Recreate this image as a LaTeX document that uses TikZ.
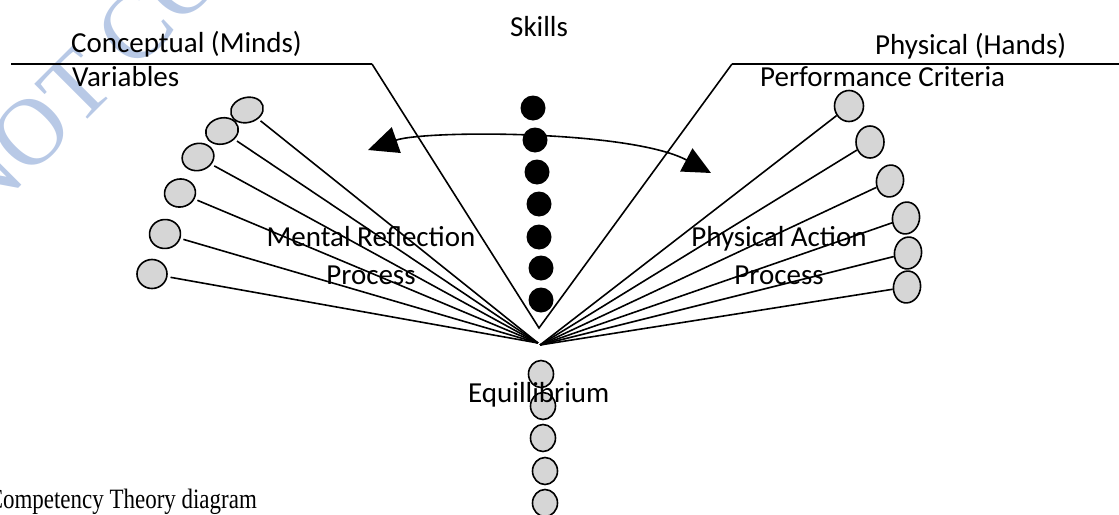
\documentclass[tikz,border=0pt]{standalone}
\usepackage{fontspec}
\setmainfont{Carlito}
\newfontfamily\capfont{Liberation Serif}
\usetikzlibrary{shapes.geometric,arrows.meta}
\definecolor{ellgray}{RGB}{214,214,214}
\definecolor{wmblue}{RGB}{184,201,230}
\begin{document}
\begin{tikzpicture}[x=1pt,y=-1pt,
  lbl/.style={inner sep=0pt,font=\fontsize{29}{35}\selectfont},
  ray/.style={line width=1.6pt},
  bar/.style={line width=2.6pt},
  ell/.style={ellipse,draw,line width=1.6pt,fill=ellgray,inner sep=0pt},
  dot/.style={circle,fill=black,inner sep=0pt,minimum size=25pt}]
\useasboundingbox (0,0) rectangle (1119,514);
\clip (0,0) rectangle (1119,514);
% watermark
\node[text=wmblue,inner sep=0pt,font=\capfont\fontsize{95}{95}\selectfont,rotate=45,anchor=base west] (wm) at (-20,227) {NOT COPY};
% top frame
\coordinate (tl) at (11,64);
\coordinate (tm) at (372,64);
\coordinate (v) at (539,328);
\coordinate (tr) at (732,64);
\coordinate (te) at (1119,64);
\draw[bar] (tl) -- (tm);
\draw[bar] (tr) -- (te);
\draw[ray,line join=miter] (tm) -- (v) -- (tr);
% fan points
\coordinate (fanL) at (538,343);
\coordinate (fanR) at (540,345);
% left ellipses
\node[ell,minimum width=33pt,minimum height=25pt,rotate=15] (L1) at (247,110) {};
\node[ell,minimum width=33pt,minimum height=26pt,rotate=15] (L2) at (222,131) {};
\node[ell,minimum width=32pt,minimum height=27pt,rotate=15] (L3) at (198,157) {};
\node[ell,minimum width=31pt,minimum height=28pt,rotate=10] (L4) at (180,193) {};
\node[ell,minimum width=31pt,minimum height=29pt,rotate=5] (L5) at (165,234) {};
\node[ell,minimum width=30pt,minimum height=29pt] (L6) at (152,274) {};
% right ellipses
\node[ell,minimum width=29pt,minimum height=31pt] (R1) at (849,106) {};
\node[ell,minimum width=28pt,minimum height=32pt] (R2) at (870,142) {};
\node[ell,minimum width=27pt,minimum height=32pt,rotate=-10] (R3) at (890,181) {};
\node[ell,minimum width=27pt,minimum height=32pt,rotate=-10] (R4) at (906,218) {};
\node[ell,minimum width=27pt,minimum height=32pt,rotate=-10] (R5) at (908,253) {};
\node[ell,minimum width=27pt,minimum height=32pt,rotate=-10] (R6) at (907,287) {};
% bottom ellipses
\node[ell,minimum width=25pt,minimum height=27pt] (B1) at (541,374) {};
\node[ell,minimum width=25pt,minimum height=27pt] (B2) at (543,406) {};
\node[ell,minimum width=25pt,minimum height=27pt] (B3) at (543,438) {};
\node[ell,minimum width=25pt,minimum height=27pt] (B4) at (545,471) {};
\node[ell,minimum width=25pt,minimum height=27pt] (B5) at (545,503) {};
% rays
\foreach \n in {L1,L2,L3,L4,L5,L6} \draw[ray,shorten <=3pt] (\n) -- (fanL);
\foreach \n in {R1,R2,R3,R4,R5,R6} \draw[ray] (\n) -- (fanR);
% black dots
\node[dot] (d1) at (533,108) {};
\node[dot] (d2) at (535,140) {};
\node[dot] (d3) at (537,172) {};
\node[dot] (d4) at (539,204) {};
\node[dot] (d5) at (539,237) {};
\node[dot] (d6) at (541,268) {};
\node[dot] (d7) at (541,300) {};
% double arrow arc
\coordinate (aL) at (368,150);
\coordinate (aR) at (711,173);
\draw[ray,{Triangle[length=30pt,width=27pt]}-{Triangle[length=28pt,width=26pt]}] (aL) .. controls (425,130) and (630,130) .. (aR);
% labels
\node[lbl,anchor=base west] (conc) at (71,52) {Conceptual (Minds)};
\node[lbl,anchor=base west] (var) at (72,86) {Variables};
\node[lbl,anchor=base west] (sk) at (510,36) {Skills};
\node[lbl,anchor=base west] (phys) at (875,54) {Physical (Hands)};
\node[lbl,anchor=base west] (perf) at (760,86) {Performance Criteria};
\node[lbl,anchor=base] (mr) at (371,246) {Mental Reflection};
\node[lbl,anchor=base] (mp) at (371,284) {Process};
\node[lbl,anchor=base] (pa) at (779,246) {Physical Action};
\node[lbl,anchor=base] (pp) at (779,284) {Process};
\node[lbl,anchor=base west] (eq) at (468,402) {Equillibrium};
\node[inner sep=0pt,anchor=base east,xscale=0.82,font=\capfont\fontsize{28}{32}\selectfont] (cap) at (257,508) {Competency Theory diagram};
\end{tikzpicture}
\end{document}
